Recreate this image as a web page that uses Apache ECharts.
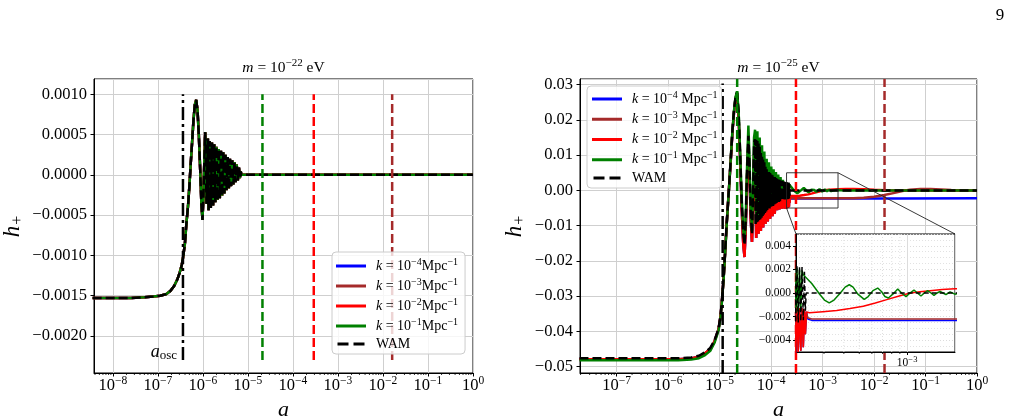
<!DOCTYPE html>
<html>
<head>
<meta charset="utf-8">
<script src="https://cdn.jsdelivr.net/npm/echarts@6/dist/echarts.min.js"></script>
<style>
  html, body { margin: 0; padding: 0; background: #fff; }
  #chart { width: 1011px; height: 418px; }
</style>
</head>
<body>
<div id="chart"></div>
<script>
// ---- data: [log10(a), h+] ----
// m = 1e-22 eV : the four k curves and WAM lie on top of each other
var leftCurve = [
  [-8.45,-0.00153],[-7.6,-0.00153],[-7.3,-0.00152],[-7.1,-0.00151],[-6.95,-0.0015],[-6.81,-0.00148],
  [-6.72,-0.00144],[-6.64,-0.00138],[-6.57,-0.0013],[-6.52,-0.00122],[-6.47,-0.00112],[-6.44,-0.00102],
  [-6.40,-0.00085],[-6.37,-0.00062],[-6.33,-0.00038],[-6.30,-0.00013],[-6.27,0.00015],[-6.24,0.00041],
  [-6.21,0.00068],[-6.18,0.00087],[-6.15,0.00093],[-6.12,0.0008],[-6.09,0.00048],[-6.06,0.00005],
  [-6.035,-0.00035],[-6.01,-0.00056],[-5.99,-0.00028],[-5.97,0.00015],[-5.95,0.00053],[-5.935,0.0001],
  [-5.92,-0.00036],[-5.905,0.0],[-5.89,0.00045],
  [-5.875,-0.00044],[-5.850,0.00042],[-5.825,-0.00041],[-5.800,0.0004],[-5.775,-0.00038],[-5.750,0.00038],
  [-5.725,-0.00034],[-5.700,0.00035],[-5.675,-0.00031],[-5.650,0.00032],[-5.625,-0.00029],[-5.600,0.0003],
  [-5.575,-0.00026],[-5.550,0.00028],[-5.525,-0.00023],[-5.500,0.00025],[-5.475,-0.00019],[-5.450,0.00022],
  [-5.425,-0.00017],[-5.400,0.0002],[-5.375,-0.00014],[-5.350,0.00018],[-5.325,-0.00012],[-5.300,0.00016],
  [-5.275,-0.00009],[-5.250,0.00013],[-5.225,-0.00007],[-5.200,0.00009],[-5.180,-0.00004],[-5.160,0.00004],
  [-5.145,0],[0,0]
];

// m = 1e-25 eV
var rightWam = [
  [-7.72,-0.0476],[-5.8,-0.0476],[-5.55,-0.0474],[-5.4,-0.0469],[-5.28,-0.0459],[-5.18,-0.0447],
  [-5.10,-0.0426],[-5.02,-0.0392],[-4.98,-0.0355],[-4.95,-0.0305],[-4.92,-0.0245],[-4.89,-0.017],
  [-4.86,-0.009],[-4.82,0.0],[-4.78,0.0095],[-4.75,0.017],[-4.72,0.0225],[-4.69,0.0265],[-4.66,0.0278],
  [-4.63,0.0222],[-4.60,0.0105],[-4.57,-0.003],[-4.54,-0.012],[-4.515,-0.0155],[-4.49,-0.008],
  [-4.465,0.006],[-4.44,0.0155],[-4.42,0.008],[-4.395,-0.006],[-4.37,-0.0125],[-4.35,-0.002],[-4.33,0.0135],
  [-4.310,0.0145],[-4.299,-0.0100],[-4.288,0.0143],[-4.276,-0.0094],[-4.265,0.0140],[-4.254,-0.0088],
  [-4.243,0.0133],[-4.231,-0.0084],[-4.220,0.0125],[-4.209,-0.0082],[-4.198,0.0112],[-4.186,-0.0078],
  [-4.175,0.0100],[-4.164,-0.0073],[-4.153,0.0090],[-4.141,-0.0068],[-4.130,0.0080],[-4.119,-0.0064],
  [-4.108,0.0070],[-4.096,-0.0060],[-4.085,0.0060],[-4.074,-0.0057],[-4.063,0.0056],[-4.051,-0.0053],
  [-4.040,0.0052],[-4.029,-0.0051],[-4.018,0.0049],[-4.007,-0.0048],[-3.995,0.0045],[-3.984,-0.0046],
  [-3.973,0.0043],[-3.961,-0.0044],[-3.950,0.0040],[-3.939,-0.0041],[-3.928,0.0038],[-3.916,-0.0038],
  [-3.905,0.0035],[-3.894,-0.0036],[-3.883,0.0034],[-3.871,-0.0034],[-3.860,0.0031],[-3.849,-0.0033],
  [-3.838,0.0030],[-3.826,-0.0031],[-3.815,0.0028],[-3.804,-0.0030],[-3.793,0.0027],[-3.781,-0.0028],
  [-3.770,0.0026],[-3.759,-0.0027],[-3.748,0.0025],[-3.736,-0.0026],
  [-3.725,0.0024],[-3.717,-0.0025],[-3.709,0.0024],[-3.701,-0.0025],
  [-3.693,0.0023],[-3.685,-0.0025],[-3.677,0.0022],[-3.669,-0.0024],[-3.661,0.0022],[-3.653,-0.0023],
  [-3.646,0.0018],[-3.640,-0.0015],[-3.635,0.0],[0,0]
];

var rightK1 = [
  [-7.72,-0.0482],[-5.8,-0.0482],[-5.55,-0.048],[-5.4,-0.0476],[-5.28,-0.0467],[-5.18,-0.0455],
  [-5.10,-0.0433],[-5.02,-0.0398],[-4.98,-0.036],[-4.95,-0.031],[-4.92,-0.025],[-4.89,-0.0175],
  [-4.86,-0.0095],[-4.82,-0.0005],[-4.78,0.0095],[-4.75,0.0168],[-4.72,0.0225],[-4.69,0.0265],[-4.66,0.0281],
  [-4.63,0.0225],[-4.60,0.011],[-4.57,-0.002],[-4.54,-0.011],[-4.515,-0.0145],[-4.49,-0.007],
  [-4.465,0.007],[-4.44,0.0184],[-4.42,0.010],[-4.395,-0.005],[-4.37,-0.0115],[-4.35,0.0],[-4.33,0.015],
  [-4.310,0.0172],[-4.288,-0.0085],[-4.265,0.0168],[-4.243,-0.0072],[-4.220,0.0150],[-4.198,-0.0066],
  [-4.175,0.0128],[-4.153,-0.0058],[-4.130,0.0110],[-4.108,-0.0050],[-4.085,0.0090],[-4.063,-0.0044],
  [-4.040,0.0080],[-4.018,-0.0038],[-3.995,0.0068],[-3.973,-0.0033],[-3.950,0.0060],[-3.928,-0.0030],
  [-3.905,0.0052],[-3.883,-0.0027],[-3.860,0.0045],[-3.838,-0.0024],[-3.815,0.0038],[-3.793,-0.0021],
  [-3.770,0.0030],[-3.748,-0.0019],[-3.725,0.0024],[-3.717,-0.0018],[-3.709,0.0022],[-3.701,-0.0017],
  [-3.693,0.0021],[-3.685,-0.0016],[-3.677,0.0020],[-3.669,-0.0014],[-3.661,0.0019],[-3.653,0.00154],
  [-3.60,0.0008],[-3.55,-0.0001],[-3.52,-0.0006],[-3.49,-0.00084],[-3.46,-0.0006],[-3.42,0.0],
  [-3.39,0.0005],[-3.364,0.0007],[-3.34,0.0005],[-3.31,-0.0001],[-3.27,-0.00054],[-3.245,-0.0003],
  [-3.215,0.0002],[-3.185,0.00042],[-3.16,0.0001],[-3.14,-0.0003],[-3.118,-0.00042],[-3.09,-0.0001],
  [-3.059,0.00034],[-3.035,0.0],[-3.007,-0.00031],[-2.982,0.0],[-2.957,0.00025],[-2.935,0.0],
  [-2.913,-0.00025],[-2.892,0],[-2.871,0.0002],[-2.85,0],[-2.831,-0.0002],[-2.812,0],[-2.793,0.00013],
  [-2.775,0],[-2.756,-0.00013],[-2.73,0.0001],[-2.70,-0.0001],[-2.65,0.00005],[-2.5,0],[0,0]
];

// early part shared by k = 1e-2, 1e-3, 1e-4 (they only part after the burst)
var rightOsc = [
  [-7.72,-0.0479],[-5.8,-0.0479],[-5.55,-0.0477],[-5.4,-0.0472],[-5.28,-0.0462],[-5.18,-0.045],
  [-5.10,-0.0429],[-5.02,-0.0394],[-4.98,-0.0357],[-4.95,-0.0307],[-4.92,-0.0247],[-4.89,-0.0172],
  [-4.86,-0.0092],[-4.82,-0.0002],[-4.78,0.009],[-4.75,0.0165],[-4.72,0.022],[-4.69,0.026],[-4.66,0.0276],
  [-4.63,0.021],[-4.60,0.009],[-4.57,-0.005],[-4.54,-0.015],[-4.515,-0.0189],[-4.49,-0.010],
  [-4.465,0.004],[-4.44,0.0135],[-4.42,0.006],[-4.395,-0.008],[-4.37,-0.0146],[-4.35,-0.004],[-4.33,0.010],
  [-4.310,0.0110],[-4.288,-0.0135],[-4.265,0.0095],[-4.243,-0.0123],[-4.220,0.0080],[-4.198,-0.0115],
  [-4.175,0.0060],[-4.153,-0.0105],[-4.130,0.0045],[-4.108,-0.0095],[-4.085,0.0030],[-4.063,-0.0088],
  [-4.040,0.0020],[-4.018,-0.0080],[-3.995,0.0012],[-3.973,-0.0073],[-3.950,0.0005],[-3.928,-0.0066],
  [-3.905,0.0000],[-3.883,-0.0056],[-3.860,-0.0003],[-3.838,-0.0054],[-3.815,-0.0006],[-3.793,-0.0052],
  [-3.770,-0.0008],[-3.748,-0.0051],[-3.725,-0.0011],[-3.717,-0.0052],[-3.709,-0.0012],[-3.701,-0.0051],
  [-3.693,-0.0012],[-3.685,-0.0050],[-3.677,-0.0013],[-3.669,-0.0049],[-3.661,-0.0013],[-3.653,-0.0046],
  [-3.646,-0.0014],[-3.640,-0.0035],[-3.633,-0.0016]
];
var rightK2Tail = [
  [-3.615,-0.00168],[-3.53,-0.00158],[-3.443,-0.00149],[-3.36,-0.00132],[-3.276,-0.00113],[-3.2,-0.00085],
  [-3.128,-0.00056],[-3.05,-0.00026],[-2.98,0.0],[-2.92,0.00011],[-2.856,0.0002],[-2.78,0.00029],
  [-2.70,0.00036],[-2.55,0.00043],[-2.4,0.00042],[-2.2,0.00032],[-2.0,0.00018],[-1.8,0.00007],[-1.5,0],[0,0]
];
var rightK3Tail = [
  [-3.625,-0.0021],[-3.6,-0.0022],[-2.4,-0.0022],[-2.2,-0.0021],[-2.0,-0.0018],[-1.8,-0.0013],
  [-1.6,-0.0007],[-1.45,-0.0002],[-1.3,0.0002],[-1.1,0.0004],[-0.9,0.0004],[-0.7,0.00025],
  [-0.5,0.0001],[-0.3,0],[0,0]
];
var rightK4Tail = [
  [-3.625,-0.0022],[-3.6,-0.00232],[-2.5,-0.00232],[-1.5,-0.0023],[0,-0.0022]
];

// vertical markers: a_osc (dash-dot) then k = 1e-1, 1e-2, 1e-3 (dashed)
var leftVLines = [3.6e-7, 2.1e-5, 2.9e-4, 1.6e-2];
var leftVRange = [-0.0023, 0.001];
var rightVLines = [1.15e-5, 2.2e-5, 3.05e-4, 1.6e-2];
var rightVRange = [-0.0518, 0.0316];

var leftXRange = [3.8e-9, 1];
var leftYRange = [-0.00246, 0.00119];
var rightXRange = [1.95e-8, 1];
var rightYRange = [-0.0518, 0.0316];
var insetXRange = [2e-4, 2e-3];
var insetYRange = [-0.005, 0.005];

var seriesNames = ['k4', 'k3', 'k2', 'k1', 'WAM'];
var seriesExp = ['\u22124', '\u22123', '\u22122', '\u22121'];
var kColors = ['#0000ff', '#a52a2a', '#ff0000', '#008000'];
var vColors = ['#000000', '#008000', '#ff0000', '#a52a2a'];

// ---- helpers ----
var F = '"Liberation Serif", "DejaVu Serif", serif';
var MINUS = '\u2212';

function toA(arr) {
  return arr.map(function (p) { return [Math.pow(10, p[0]), p[1]]; });
}
function powLabel(v) {
  var e = Math.round(Math.log10(v));
  return '{b|10}{s|' + (e < 0 ? MINUS + (-e) : e) + '}';
}
function fixedLabel(d) {
  return function (v) {
    return (v < -1e-12 ? MINUS : '') + Math.abs(v).toFixed(d);
  };
}
function minorValues(lo, hi) {
  var out = [];
  for (var e = Math.floor(Math.log10(lo)); e <= Math.ceil(Math.log10(hi)); e++) {
    for (var m = 2; m <= 9; m++) {
      var v = m * Math.pow(10, e);
      if (v > lo * 1.0001 && v < hi * 0.9999) out.push(v);
    }
  }
  return out;
}

var powRich = {
  b: { fontFamily: F, fontSize: 16.5, color: '#000', lineHeight: 22, verticalAlign: 'middle' },
  s: { fontFamily: F, fontSize: 11.5, color: '#000', lineHeight: 11, verticalAlign: 'top' }
};
var powRichSmall = {
  b: { fontFamily: F, fontSize: 11.5, color: '#000', lineHeight: 15, verticalAlign: 'middle' },
  s: { fontFamily: F, fontSize: 8.5, color: '#000', lineHeight: 8, verticalAlign: 'top' }
};
var titleRich = {
  i: { fontFamily: F, fontSize: 15.5, fontStyle: 'italic', fontWeight: 'normal', color: '#000', lineHeight: 20, verticalAlign: 'middle' },
  n: { fontFamily: F, fontSize: 15.5, fontWeight: 'normal', color: '#000', lineHeight: 20, verticalAlign: 'middle' },
  s: { fontFamily: F, fontSize: 11, fontWeight: 'normal', color: '#000', lineHeight: 11, verticalAlign: 'top' }
};
var nameRich = {
  i: { fontFamily: F, fontSize: 23, fontStyle: 'italic', color: '#000', lineHeight: 26, verticalAlign: 'middle' },
  sub: { fontFamily: F, fontSize: 16, color: '#000', lineHeight: 13, verticalAlign: 'bottom' }
};
var legendRich = {
  g: { width: 5 },
  i: { fontFamily: F, fontSize: 14, fontStyle: 'italic', color: '#000', lineHeight: 18, verticalAlign: 'middle' },
  n: { fontFamily: F, fontSize: 14, color: '#000', lineHeight: 18, verticalAlign: 'middle' },
  s: { fontFamily: F, fontSize: 10, color: '#000', lineHeight: 10, verticalAlign: 'top' }
};

// legend entries: solid bar for the k curves, two dashes for WAM
var legendData = seriesNames.map(function (n) {
  return n === 'WAM'
    ? { name: n, icon: 'path://M0,0H11V3H0Z M16,0H27V3H16Z' }
    : { name: n, icon: 'rect' };
});

function legendFormatter(space) {
  return function (name) {
    if (name === 'WAM') return '{g| }{n|WAM}';
    var e = seriesExp[seriesNames.indexOf(name)];
    return '{g| }{i|k}{n| = 10}{s|' + e + '}{n|' + space + 'Mpc}{s|' + MINUS + '1}';
  };
}

function logXAxis(grid, range, rich, small) {
  return {
    type: 'log', gridIndex: grid, min: range[0], max: range[1], logBase: 10,
    axisLine: { show: true, onZero: false, lineStyle: { color: '#000', width: 1 } },
    axisTick: { show: true, inside: false, length: small ? 3 : 3.5, lineStyle: { color: '#000', width: 1 } },
    axisLabel: { interval: 0, margin: small ? 3 : 2, showMinLabel: false, showMaxLabel: small ? false : true,
      formatter: powLabel, rich: rich },
    splitLine: { show: true, lineStyle: { color: small ? '#dcdcdc' : '#cfcfcf', width: 1 } },
    z: small ? 11 : 0
  };
}

function valueYAxis(grid, range, dec, splitNumber, fontSize, margin, small) {
  return {
    type: 'value', gridIndex: grid, min: range[0], max: range[1], splitNumber: splitNumber, scale: true,
    axisLine: { show: true, onZero: false, lineStyle: { color: '#000', width: 1 } },
    axisTick: { show: true, inside: false, length: small ? 3 : 3.5, lineStyle: { color: '#000', width: 1 } },
    axisLabel: { margin: margin, showMinLabel: false, showMaxLabel: false, formatter: fixedLabel(dec),
      fontFamily: F, fontSize: fontSize, color: '#000' },
    splitLine: { show: true, lineStyle: { color: small ? '#dcdcdc' : '#cfcfcf', width: 1, type: small ? [1, 2] : 'solid' } },
    minorTick: { show: false, splitNumber: 4 },
    minorSplitLine: { show: !!small, lineStyle: { color: '#e2e2e2', width: 1, type: [1, 2] } },
    z: small ? 11 : 0
  };
}

function curve(name, axis, data, color, width, dash, z) {
  return {
    name: name, type: 'line', xAxisIndex: axis, yAxisIndex: axis, data: data,
    showSymbol: false, symbol: 'none', silent: true, animation: false, z: z,
    lineStyle: { color: color, width: width, type: dash || 'solid' },
    itemStyle: { color: color }
  };
}

function vLine(axis, x, range, color, dash) {
  return {
    type: 'line', xAxisIndex: axis, yAxisIndex: axis, data: [[x, range[0]], [x, range[1]]],
    showSymbol: false, symbol: 'none', silent: true, animation: false, z: 3,
    lineStyle: { color: color, width: 2.5, type: dash }
  };
}

function minorTicks(axis, range, yLow, len, z) {
  return {
    type: 'custom', xAxisIndex: axis, yAxisIndex: axis, silent: true, animation: false, clip: false, z: z,
    data: minorValues(range[0], range[1]).map(function (v) { return [v, yLow]; }),
    renderItem: function (params, api) {
      var p = api.coord([api.value(0), api.value(1)]);
      return { type: 'line', shape: { x1: p[0], y1: p[1], x2: p[0], y2: p[1] + len },
        style: { stroke: '#000', lineWidth: 0.8 } };
    }
  };
}

function minorGrid(axis, range, yRange, z) {
  return {
    type: 'custom', xAxisIndex: axis, yAxisIndex: axis, silent: true, animation: false, z: z,
    data: minorValues(range[0], range[1]).map(function (v) { return [v, yRange[0], yRange[1]]; }),
    renderItem: function (params, api) {
      var p0 = api.coord([api.value(0), api.value(1)]);
      var p1 = api.coord([api.value(0), api.value(2)]);
      return { type: 'line', shape: { x1: p0[0], y1: p0[1], x2: p1[0], y2: p1[1] },
        style: { stroke: '#e0e0e0', lineWidth: 1, lineDash: [1, 2] } };
    }
  };
}

// ---- build series ----
var series = [];
var i;
// left panel
for (i = 0; i < 4; i++) series.push(curve(seriesNames[i], 0, toA(leftCurve), kColors[i], 2.5, null, 2));
series.push(curve('WAM', 0, toA(leftCurve), '#000', 2.5, [9, 4], 2));
for (i = 0; i < 4; i++) series.push(vLine(0, leftVLines[i], leftVRange, vColors[i], i === 0 ? [13, 4, 3, 4] : [9, 4]));
series.push(minorTicks(0, leftXRange, leftYRange[0], 2, 3));

// right panel
var rightK = [
  rightOsc.concat(rightK4Tail),
  rightOsc.concat(rightK3Tail),
  rightOsc.concat(rightK2Tail),
  rightK1
];
for (i = 0; i < 4; i++) series.push(curve(seriesNames[i], 1, toA(rightK[i]), kColors[i], 2.5, null, 2));
series.push(curve('WAM', 1, toA(rightWam), '#000', 2.5, [9, 4], 2));
series.push(vLine(1, rightVLines[0], [rightVRange[0], 0.0303], vColors[0], [13, 4, 3, 4]));
for (i = 1; i < 4; i++) series.push(vLine(1, rightVLines[i], rightVRange, vColors[i], [9, 4]));
series.push(minorTicks(1, rightXRange, rightYRange[0], 2, 3));

// inset
series.push(minorGrid(2, insetXRange, insetYRange, 11));
for (i = 0; i < 4; i++) series.push(curve(seriesNames[i], 2, toA(rightK[i]), kColors[i], 1.5, null, 12));
series.push(curve('WAM', 2, toA(rightWam), '#000', 1.5, [5, 3], 12));
series.push(minorTicks(2, insetXRange, insetYRange[0], 2, 12));

var chart = echarts.init(document.getElementById('chart'), null, { renderer: 'canvas' });

var yName = '{i|h}{sub|+}';
var yNameStyle = { fontFamily: F, fontSize: 23, fontStyle: 'italic', color: '#000', rich: nameRich };
var xNameStyle = { fontFamily: F, fontSize: 22, fontStyle: 'italic', color: '#000' };

chart.setOption({
  animation: false,
  backgroundColor: '#fff',
  title: [
    { text: '{i|m}{n| = 10}{s|' + MINUS + '22}{n| eV}', left: 283.5, top: 58, textAlign: 'center', padding: 0,
      textStyle: { fontWeight: 'normal', fontFamily: F, rich: titleRich } },
    { text: '{i|m}{n| = 10}{s|' + MINUS + '25}{n| eV}', left: 778.5, top: 58, textAlign: 'center', padding: 0,
      textStyle: { fontWeight: 'normal', fontFamily: F, rich: titleRich } }
  ],
  grid: [
    { left: 94, top: 79, width: 379, height: 294, show: true, borderColor: '#000', borderWidth: 1,
      backgroundColor: 'transparent', containLabel: false, outerBoundsMode: 'none' },
    { left: 580, top: 79, width: 397, height: 294, show: true, borderColor: '#000', borderWidth: 1,
      backgroundColor: 'transparent', containLabel: false, outerBoundsMode: 'none' },
    { left: 796, top: 234, width: 159, height: 118, show: true, borderColor: '#000', borderWidth: 1,
      backgroundColor: '#fff', containLabel: false, outerBoundsMode: 'none', z: 10 }
  ],
  xAxis: [
    Object.assign(logXAxis(0, leftXRange, powRich, false), {
      name: 'a', nameLocation: 'middle', nameGap: 25, nameTextStyle: xNameStyle }),
    Object.assign(logXAxis(1, rightXRange, powRich, false), {
      name: 'a', nameLocation: 'middle', nameGap: 25, nameTextStyle: xNameStyle }),
    logXAxis(2, insetXRange, powRichSmall, true)
  ],
  yAxis: [
    Object.assign(valueYAxis(0, leftYRange, 4, 7, 16.5, 7, false), {
      name: yName, nameLocation: 'middle', nameGap: 68, nameTextStyle: yNameStyle }),
    Object.assign(valueYAxis(1, rightYRange, 2, 8, 16.5, 7, false), {
      name: yName, nameLocation: 'middle', nameGap: 52, nameTextStyle: yNameStyle }),
    valueYAxis(2, insetYRange, 3, 5, 11.5, 5, true)
  ],
  legend: [
    { data: legendData, orient: 'vertical', left: 332, top: 252, itemWidth: 30, itemHeight: 3, itemGap: 4,
      padding: [5, 7, 3, 4], backgroundColor: 'rgba(255,255,255,0.8)', borderColor: '#cccccc', borderWidth: 1,
      borderRadius: 4, selectedMode: false, z: 6,
      formatter: legendFormatter(''), textStyle: { rich: legendRich } },
    { data: legendData, orient: 'vertical', left: 587, top: 86, itemWidth: 30, itemHeight: 3, itemGap: 4.25,
      padding: [4, 4, 3, 5], backgroundColor: 'rgba(255,255,255,0.8)', borderColor: '#cccccc', borderWidth: 1,
      borderRadius: 4, selectedMode: false, z: 6,
      formatter: legendFormatter(' '), textStyle: { rich: legendRich } }
  ],
  series: series
});

// annotations placed through the axes: a_osc label, zoom box, connectors, page number
var pOsc = chart.convertToPixel({ xAxisIndex: 0, yAxisIndex: 0 }, [leftVLines[0], -0.0022]);
var boxBL = chart.convertToPixel({ xAxisIndex: 1, yAxisIndex: 1 }, [insetXRange[0], insetYRange[0]]);
var boxTR = chart.convertToPixel({ xAxisIndex: 1, yAxisIndex: 1 }, [insetXRange[1], insetYRange[1]]);
var insTL = chart.convertToPixel({ xAxisIndex: 2, yAxisIndex: 2 }, [insetXRange[0], insetYRange[1]]);
var insTR = chart.convertToPixel({ xAxisIndex: 2, yAxisIndex: 2 }, [insetXRange[1], insetYRange[1]]);

chart.setOption({
  graphic: { elements: [
    { type: 'text', x: pOsc[0] - 6, y: pOsc[1], z: 5, silent: true,
      style: { text: '{i|a}{sub|osc}', align: 'right', verticalAlign: 'middle',
        rich: {
          i: { fontFamily: F, fontSize: 18, fontStyle: 'italic', fill: '#000', lineHeight: 20, verticalAlign: 'middle' },
          sub: { fontFamily: F, fontSize: 13, fill: '#000', lineHeight: 11, verticalAlign: 'bottom' }
        } } },
    { type: 'rect', z: 5, silent: true,
      shape: { x: boxBL[0], y: boxTR[1], width: boxTR[0] - boxBL[0], height: boxBL[1] - boxTR[1] },
      style: { fill: 'none', stroke: '#222', lineWidth: 0.9 } },
    { type: 'line', z: 5, silent: true,
      shape: { x1: boxBL[0], y1: boxBL[1], x2: insTL[0], y2: insTL[1] },
      style: { stroke: '#222', lineWidth: 0.9 } },
    { type: 'line', z: 5, silent: true,
      shape: { x1: boxTR[0], y1: boxTR[1], x2: insTR[0], y2: insTR[1] },
      style: { stroke: '#222', lineWidth: 0.9 } },
    { type: 'text', x: 1000, y: 16, z: 5, silent: true,
      style: { text: '9', fontFamily: F, fontSize: 17, fill: '#000', align: 'center', verticalAlign: 'middle' } }
  ] }
});
</script>
</body>
</html>
